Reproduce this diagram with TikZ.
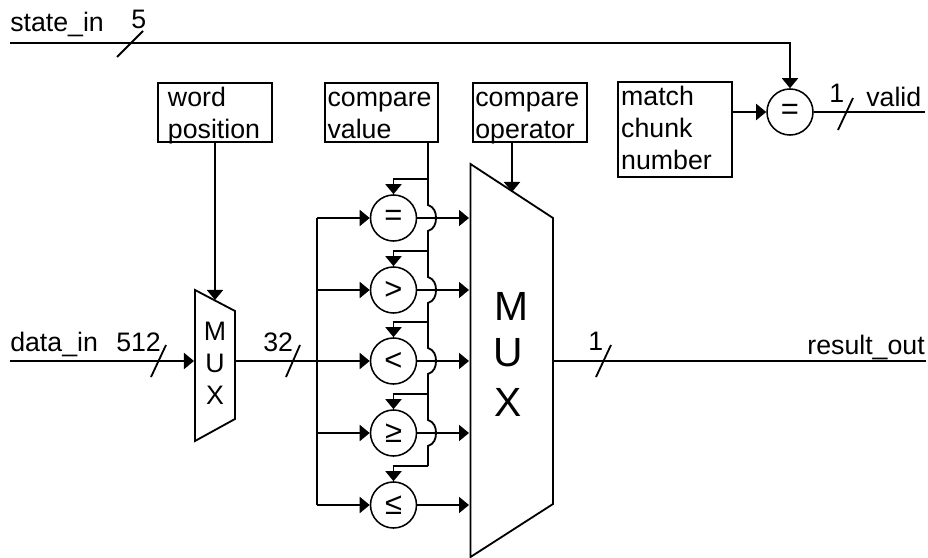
\documentclass[tikz,border=0pt]{standalone}
\usepackage{fontspec}
\setmainfont{Liberation Sans}
\usetikzlibrary{arrows.meta}
\tikzset{
  sig/.style={line width=1.3pt},
  sigarrow/.style={sig,-{Triangle[length=.25cm,width=.4cm]}},
  regbox/.style={draw,line width=1.3pt,align=left,inner ysep=0pt,minimum height=1.475cm,text height=14pt,text depth=22.6pt},
  cmpnode/.style={draw,circle,line width=1.1pt,inner sep=0pt,minimum size=1.15cm,font=\fontsize{22}{24}\selectfont},
  label/.style={inner sep=0pt,anchor=base west},
  muxletter/.style={inner sep=0pt,font=\fontsize{29}{32}\selectfont}
}
\begin{document}
\begin{tikzpicture}[x=.025cm,y=-.025cm,font=\fontsize{19}{22.8}\selectfont]
\useasboundingbox (0,0) rectangle (928,558);
% registers
\node[regbox,text width=2.35cm,inner xsep=.25cm] (wordpos) at (215,112.5) {word\\position};
\node[regbox,text width=2.695cm,inner xsep=.065cm] (cmpval) at (381.5,112.5) {compare\\value};
\node[regbox,text width=2.73cm,inner xsep=.06cm] (cmpop) at (530,112.5) {compare\\operator};
\node[regbox,text width=2.69cm,inner xsep=.08cm,minimum height=2.375cm,text depth=48.2pt] (chunk) at (675,129.5) {match\\chunk\\number};
% comparators
\node[cmpnode] (cmpeq) at (393.5,218) {=};
\node[cmpnode] (cmpgt) at (393.5,290) {>};
\node[cmpnode] (cmplt) at (393.5,361) {<};
\node[cmpnode] (cmpge) at (393.5,433) {≥};
\node[cmpnode] (cmple) at (393.5,505) {≤};
\node[cmpnode] (cmpchunk) at (790,112) {=};
% muxes
\draw[sig] (195,290) -- (235,311) -- (235,419) -- (195,441) -- cycle;
\draw[sig] (470.5,164) -- (553,218) -- (553,504) -- (470.5,557) -- cycle;
\node[inner sep=0pt] (wm) at (215,331) {M};
\node[inner sep=0pt] (wu) at (215,363) {U};
\node[inner sep=0pt] (wx) at (215,395) {X};
\node[muxletter] (bm) at (511,306) {M};
\node[muxletter] (bu) at (508,353) {U};
\node[muxletter] (bx) at (508,402) {X};
% free ends and junctions
\coordinate (statein) at (10,43);
\coordinate (datain) at (10,361);
\coordinate (wordin) at (194,361);
\coordinate (wordout) at (235,361);
\coordinate (wordsel) at (215,300);
\coordinate (opout) at (512,142);
\coordinate (opsel) at (512,192);
\coordinate (muxout) at (553,361);
\coordinate (resultout) at (926,361);
\coordinate (chunkout) at (732,112);
\coordinate (validout) at (925,112);
\coordinate (in1) at (317,218);
\coordinate (in2) at (317,290);
\coordinate (in3) at (317,361);
\coordinate (in4) at (317,433);
\coordinate (in5) at (317,505);
\coordinate (sel1) at (469,218);
\coordinate (sel2) at (469,290);
\coordinate (sel3) at (469,361);
\coordinate (sel4) at (469,433);
\coordinate (sel5) at (469,505);
\coordinate (bus0) at (428,142);
\coordinate (bus1) at (428,179);
\coordinate (bus2) at (428,251);
\coordinate (bus3) at (428,322);
\coordinate (bus4) at (428,394);
\coordinate (bus5) at (428,466);
% state and chunk compare
\draw[sigarrow] (statein) -| (cmpchunk);
\draw[sigarrow] (chunkout) -- (cmpchunk);
\draw[sig] (cmpchunk) -- (validout);
% data path
\draw[sigarrow] (datain) -- (wordin);
\draw[sigarrow] (wordpos) -- (wordsel);
\draw[sig] (wordout) -- (in3);
\draw[sig] (in1) -- (in5);
\draw[sigarrow] (in1) -- (cmpeq);
\draw[sigarrow] (in2) -- (cmpgt);
\draw[sigarrow] (in3) -- (cmplt);
\draw[sigarrow] (in4) -- (cmpge);
\draw[sigarrow] (in5) -- (cmple);
\draw[sigarrow] (cmpeq) -- (sel1);
\draw[sigarrow] (cmpgt) -- (sel2);
\draw[sigarrow] (cmplt) -- (sel3);
\draw[sigarrow] (cmpge) -- (sel4);
\draw[sigarrow] (cmple) -- (sel5);
\draw[sigarrow] (opout) -- (opsel);
\draw[sig] (muxout) -- (resultout);
% compare value bus, hops over the comparator outputs
\draw[sig] (bus0) -- (428,205) .. controls (434,207) and (436,212) .. (436,218) .. controls (436,224) and (434,229) .. (428,231) -- (428,277) .. controls (434,279) and (436,284) .. (436,290) .. controls (436,296) and (434,301) .. (428,303) -- (428,348) .. controls (434,350) and (436,355) .. (436,361) .. controls (436,367) and (434,372) .. (428,374) -- (428,420) .. controls (434,422) and (436,427) .. (436,433) .. controls (436,439) and (434,444) .. (428,446) -- (bus5);
\draw[sigarrow] (bus1) -| (cmpeq);
\draw[sigarrow] (bus2) -| (cmpgt);
\draw[sigarrow] (bus3) -| (cmplt);
\draw[sigarrow] (bus4) -| (cmpge);
\draw[sigarrow] (bus5) -| (cmple);
% width marks
\draw[sig] (117,57) -- (143,31);
\draw[sig] (151,377) -- (166,345);
\draw[sig] (286,377) -- (300,345);
\draw[sig] (596,377) -- (611,345);
\draw[sig] (838,130) -- (853,98);
% labels
\node[label] (lstate) at (10,32) {state\_in};
\node[label] (lfive) at (131,29) {5};
\node[label] (ldata) at (10,351) {data\_in};
\node[label] (l512) at (116,351) {512};
\node[label] (l32) at (263,351) {32};
\node[label] (lone) at (588,350) {1};
\node[label,anchor=base east] (lresult) at (925,354) {result\_out};
\node[label] (lonev) at (829,103) {1};
\node[label] (lvalid) at (866,106) {valid};
\end{tikzpicture}
\end{document}
